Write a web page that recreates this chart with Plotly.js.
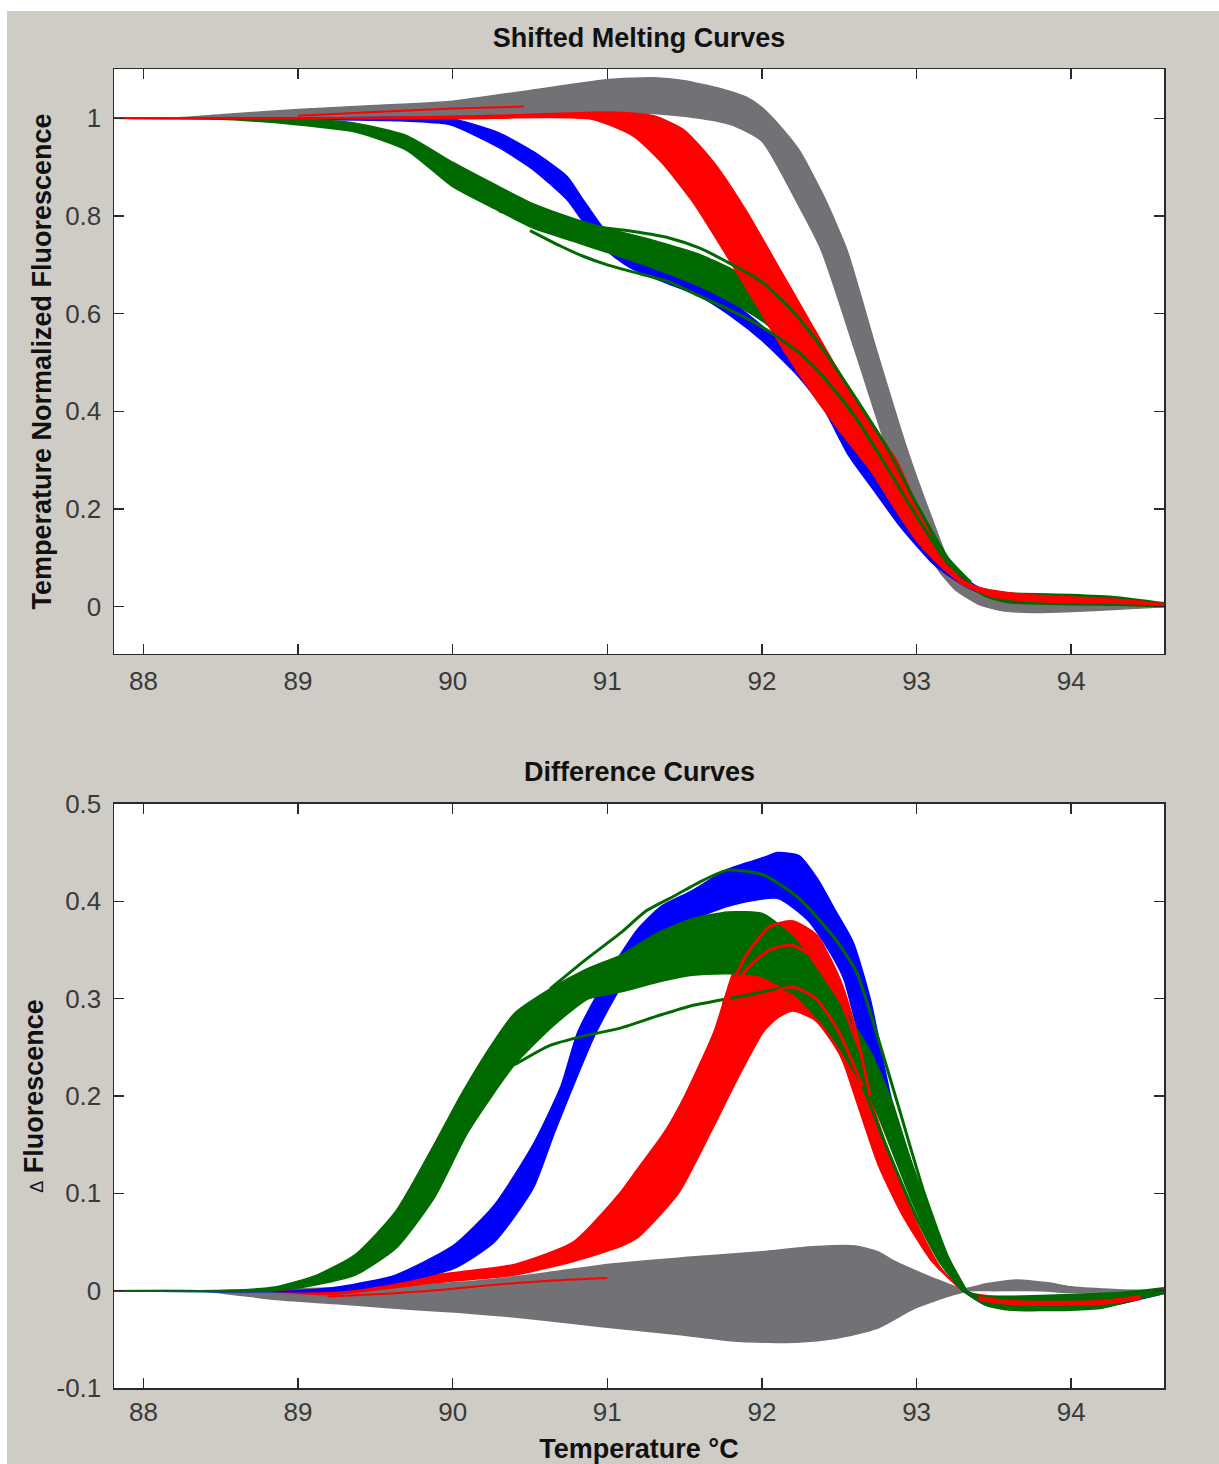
<!DOCTYPE html>
<html>
<head>
<meta charset="utf-8">
<script src="https://cdn.plot.ly/plotly-3.0.1.min.js"></script>
<style>html,body{margin:0;padding:0;background:#ffffff;}#chart{width:1219px;height:1464px;}</style>
</head>
<body>
<div id="chart"></div>
<script>
// ---------- Tick labels ----------
const xTickVals = [88, 89, 90, 91, 92, 93, 94];
const xTickText = ['88', '89', '90', '91', '92', '93', '94'];
const yTopTickVals = [0, 0.2, 0.4, 0.6, 0.8, 1];
const yTopTickText = ['0', '0.2', '0.4', '0.6', '0.8', '1'];
const yBotTickVals = [-0.1, 0, 0.1, 0.2, 0.3, 0.4, 0.5];
const yBotTickText = ['-0.1', '0', '0.1', '0.2', '0.3', '0.4', '0.5'];

// ---------- Top panel: Shifted Melting Curves (band edges) ----------
const grayTopUpperT = [87.8, 88.17, 88.5, 89.0, 89.5, 90.0, 90.5, 91.0, 91.3, 91.5, 91.75, 91.9, 92.0, 92.1, 92.24, 92.4, 92.55, 92.74, 92.94, 93.1, 93.22, 93.35, 93.5, 93.8, 94.2, 94.6];
const grayTopUpperV = [1.0, 1.0, 1.007, 1.018, 1.026, 1.035, 1.057, 1.079, 1.083, 1.077, 1.059, 1.043, 1.022, 0.99, 0.935, 0.84, 0.73, 0.526, 0.321, 0.18, 0.085, 0.04, 0.015, 0.008, 0.006, 0.004];
const grayTopLowerT = [87.8, 88.5, 89.0, 90.0, 90.5, 91.0, 91.3, 91.6, 91.8, 92.0, 92.24, 92.384, 92.6, 92.81, 92.97, 93.13, 93.25, 93.4, 93.55, 93.75, 94.0, 94.3, 94.6];
const grayTopLowerV = [1.0, 1.0, 1.0, 1.003, 1.006, 1.008, 1.01, 1.0, 0.987, 0.953, 0.82, 0.73, 0.526, 0.321, 0.184, 0.08, 0.035, 0.005, -0.008, -0.012, -0.01, -0.005, 0.0];

const blueTopUpperT = [87.8, 89.0, 89.66, 89.98, 90.3, 90.52, 90.74, 90.84, 90.95, 91.03, 91.16, 91.38, 91.6, 91.8, 92.0, 92.24, 92.4, 92.56, 92.72, 92.88, 93.0, 93.1, 93.2, 93.3, 93.4, 93.6, 94.0, 94.6];
const blueTopUpperV = [1.0, 1.0, 1.002, 1.0, 0.97, 0.932, 0.881, 0.835, 0.785, 0.752, 0.718, 0.69, 0.665, 0.625, 0.575, 0.51, 0.44, 0.365, 0.29, 0.215, 0.16, 0.12, 0.085, 0.06, 0.04, 0.02, 0.012, 0.005];
const blueTopLowerT = [87.8, 89.0, 89.66, 89.98, 90.3, 90.52, 90.74, 90.84, 90.95, 91.03, 91.16, 91.38, 91.6, 91.8, 92.0, 92.24, 92.4, 92.56, 92.72, 92.88, 93.0, 93.1, 93.2, 93.3, 93.4, 93.6, 94.0, 94.6];
const blueTopLowerV = [1.0, 0.998, 0.995, 0.987, 0.94, 0.895, 0.833, 0.79, 0.748, 0.72, 0.692, 0.663, 0.635, 0.595, 0.545, 0.47, 0.405, 0.31, 0.24, 0.17, 0.125, 0.09, 0.065, 0.045, 0.03, 0.015, 0.008, 0.002];

const redTopUpperT = [87.8, 89.0, 90.0, 90.5, 91.0, 91.3, 91.5, 91.7, 91.9, 92.1, 92.3, 92.5, 92.7, 92.87, 93.0, 93.1, 93.2, 93.3, 93.4, 93.5, 93.7, 94.0, 94.3, 94.6];
const redTopUpperV = [1.0, 1.0, 1.004, 1.008, 1.013, 1.005, 0.975, 0.905, 0.81, 0.7, 0.59, 0.48, 0.38, 0.3, 0.21, 0.14, 0.085, 0.055, 0.04, 0.033, 0.025, 0.02, 0.015, 0.006];
const redTopLowerT = [87.8, 90.0, 90.9, 91.17, 91.35, 91.55, 91.75, 91.95, 92.15, 92.35, 92.55, 92.7, 92.85, 93.0, 93.1, 93.2, 93.3, 93.5, 93.8, 94.2, 94.6];
const redTopLowerV = [1.0, 0.999, 0.998, 0.963, 0.91, 0.83, 0.73, 0.625, 0.52, 0.425, 0.34, 0.28, 0.205, 0.135, 0.1, 0.07, 0.045, 0.02, 0.01, 0.008, 0.003];
const redTopThinT = [89.0, 89.5, 90.0, 90.46];
const redTopThinV = [1.005, 1.013, 1.02, 1.024];

const greenTopUpperT = [87.8, 88.5, 89.0, 89.37, 89.7, 90.0, 90.27, 90.52, 90.78, 91.03, 91.3, 91.59, 91.81, 92.03, 92.24, 92.4, 92.56, 92.72, 92.88, 93.0, 93.1, 93.2, 93.32, 93.45, 93.6, 94.0, 94.3, 94.6];
const greenTopUpperV = [1.0, 1.0, 0.999, 0.99, 0.965, 0.91, 0.865, 0.825, 0.795, 0.772, 0.75, 0.722, 0.69, 0.645, 0.58, 0.51, 0.44, 0.36, 0.28, 0.21, 0.145, 0.09, 0.05, 0.035, 0.028, 0.025, 0.02, 0.008];
const greenTopLowerT = [87.8, 88.5, 88.99, 89.37, 89.7, 90.0, 90.27, 90.52, 90.78, 91.03, 91.3, 91.59, 91.81, 92.03, 92.24, 92.4, 92.56, 92.72, 92.88, 93.0, 93.1, 93.2, 93.32, 93.45, 93.6, 94.0, 94.3, 94.6];
const greenTopLowerV = [1.0, 0.998, 0.987, 0.972, 0.935, 0.86, 0.815, 0.775, 0.748, 0.722, 0.693, 0.657, 0.622, 0.578, 0.51, 0.44, 0.36, 0.28, 0.2, 0.15, 0.105, 0.072, 0.045, 0.02, 0.008, 0.004, 0.003, 0.0];
const greenTopOutAT = [90.3, 90.48, 90.74, 91.0, 91.17, 91.4, 91.59, 91.81, 92.0, 92.2, 92.4, 92.6, 92.8, 93.0, 93.2, 93.35];
const greenTopOutAV = [0.81, 0.797, 0.789, 0.775, 0.768, 0.755, 0.735, 0.70, 0.665, 0.605, 0.525, 0.43, 0.33, 0.21, 0.1, 0.05];
const greenTopOutBT = [90.5, 90.7, 90.84, 91.0, 91.17, 91.4, 91.59, 91.81, 92.03, 92.24, 92.4, 92.6, 92.8, 93.0, 93.2, 93.35];
const greenTopOutBV = [0.77, 0.738, 0.718, 0.70, 0.685, 0.665, 0.637, 0.605, 0.567, 0.52, 0.47, 0.39, 0.29, 0.185, 0.09, 0.05];

// ---------- Bottom panel: Difference Curves ----------
const grayBotUpperT = [87.8, 88.35, 89.0, 89.5, 90.0, 90.5, 91.0, 91.5, 92.0, 92.33, 92.6, 92.75, 92.86, 93.0, 93.12, 93.3, 93.45, 93.65, 93.85, 94.0, 94.3, 94.6];
const grayBotUpperV = [0, 0, 0.002, 0.004, 0.008, 0.016, 0.027, 0.034, 0.04, 0.045, 0.046, 0.04, 0.03, 0.02, 0.012, 0.002, 0.007, 0.011, 0.008, 0.004, 0.001, 0];
const grayBotLowerT = [87.8, 88.35, 88.86, 89.3, 89.63, 90.01, 90.4, 90.8, 91.08, 91.46, 91.84, 92.22, 92.48, 92.74, 92.99, 93.24, 93.35, 93.5, 93.8, 94.0, 94.3, 94.6];
const grayBotLowerV = [0, 0, -0.009, -0.014, -0.018, -0.022, -0.027, -0.034, -0.039, -0.045, -0.052, -0.053, -0.049, -0.039, -0.018, -0.004, 0, 0, 0, -0.002, -0.002, 0];

const blueBotUpperT = [87.8, 89.0, 89.27, 89.63, 90.01, 90.27, 90.52, 90.7, 90.81, 91.04, 91.2, 91.35, 91.55, 91.78, 92.01, 92.1, 92.24, 92.36, 92.47, 92.59, 92.7, 92.84, 93.05, 93.2, 93.32, 93.45, 93.6, 94.0, 94.3, 94.6];
const blueBotUpperV = [0, 0, 0.004, 0.016, 0.047, 0.088, 0.15, 0.21, 0.266, 0.334, 0.372, 0.395, 0.411, 0.433, 0.445, 0.45, 0.447, 0.423, 0.392, 0.358, 0.3, 0.195, 0.092, 0.03, 0.0, -0.008, -0.012, -0.012, -0.008, 0.0];
const blueBotLowerT = [87.8, 89.27, 89.63, 90.01, 90.27, 90.52, 90.66, 90.93, 91.18, 91.55, 91.78, 92.1, 92.3, 92.45, 92.53, 92.64, 92.79, 92.99, 93.15, 93.3, 93.45, 93.6, 94.0, 94.3, 94.6];
const blueBotLowerV = [0, 0, 0.008, 0.023, 0.05, 0.105, 0.163, 0.266, 0.334, 0.38, 0.395, 0.403, 0.38, 0.345, 0.32, 0.255, 0.195, 0.092, 0.03, 0.0, -0.015, -0.018, -0.018, -0.014, -0.003];

const greenBotUpperT = [87.8, 88.5, 88.86, 89.12, 89.37, 89.63, 89.88, 90.05, 90.2, 90.4, 90.63, 90.86, 91.09, 91.33, 91.55, 91.78, 92.01, 92.22, 92.48, 92.61, 92.72, 92.84, 92.95, 93.06, 93.2, 93.32, 93.45, 93.6, 94.0, 94.3, 94.6];
const greenBotUpperV = [0, 0, 0.004, 0.016, 0.037, 0.081, 0.15, 0.2, 0.24, 0.285, 0.31, 0.33, 0.345, 0.368, 0.382, 0.389, 0.387, 0.36, 0.3, 0.27, 0.24, 0.195, 0.14, 0.092, 0.035, 0.0, -0.006, -0.006, -0.004, -0.002, 0.003];
const greenBotLowerT = [87.8, 88.86, 89.12, 89.37, 89.63, 89.88, 90.1, 90.4, 90.65, 90.88, 91.09, 91.33, 91.55, 91.97, 92.22, 92.48, 92.61, 92.71, 92.85, 92.97, 93.15, 93.3, 93.45, 93.6, 94.0, 94.2, 94.4, 94.6];
const greenBotLowerV = [0, 0, 0.006, 0.016, 0.043, 0.095, 0.163, 0.232, 0.272, 0.3, 0.307, 0.317, 0.324, 0.324, 0.303, 0.255, 0.221, 0.195, 0.14, 0.092, 0.03, 0.0, -0.015, -0.02, -0.02, -0.018, -0.01, -0.003];
const greenBotOutTopT = [90.63, 90.86, 91.09, 91.25, 91.44, 91.6, 91.78, 92.01, 92.24, 92.47, 92.61, 92.75, 92.9, 93.05, 93.2, 93.32];
const greenBotOutTopV = [0.31, 0.34, 0.368, 0.39, 0.406, 0.42, 0.432, 0.427, 0.403, 0.362, 0.328, 0.26, 0.18, 0.1, 0.035, 0.0];
const greenBotOutLowT = [90.4, 90.63, 90.86, 91.09, 91.32, 91.55, 91.89, 92.12, 92.3, 92.5, 92.65, 92.8, 93.0, 93.15, 93.3];
const greenBotOutLowV = [0.232, 0.252, 0.262, 0.27, 0.282, 0.293, 0.303, 0.31, 0.3, 0.26, 0.21, 0.15, 0.075, 0.03, 0.0];

const redBotUpperT = [88.8, 89.5, 89.88, 90.4, 90.78, 91.08, 91.2, 91.37, 91.5, 91.69, 91.83, 91.95, 92.05, 92.2, 92.35, 92.5, 92.6, 92.7, 92.85, 93.0, 93.15, 93.3, 93.45, 93.7, 94.0, 94.3, 94.6];
const redBotUpperV = [0, 0.004, 0.016, 0.027, 0.05, 0.1, 0.126, 0.163, 0.2, 0.266, 0.334, 0.36, 0.374, 0.379, 0.365, 0.32, 0.27, 0.2, 0.13, 0.07, 0.025, 0, -0.005, -0.006, -0.006, -0.004, 0];
const redBotLowerT = [88.8, 89.2, 89.88, 90.4, 90.78, 91.08, 91.2, 91.46, 91.67, 91.85, 92.01, 92.1, 92.2, 92.35, 92.5, 92.6, 92.75, 92.9, 93.1, 93.3, 93.5, 93.7, 94.0, 94.3, 94.6];
const redBotLowerV = [0, -0.004, 0.008, 0.016, 0.03, 0.045, 0.055, 0.1, 0.163, 0.22, 0.266, 0.28, 0.288, 0.278, 0.245, 0.2, 0.13, 0.08, 0.03, 0.0, -0.015, -0.017, -0.017, -0.013, -0.002];
const redBotThinT = [89.19, 89.6, 90.0, 90.27, 90.6, 91.0];
const redBotThinV = [-0.006, -0.003, 0.002, 0.006, 0.01, 0.013];
const redBotTailT = [93.4, 93.6, 93.9, 94.2, 94.45];
const redBotTailV = [-0.008, -0.012, -0.013, -0.012, -0.007];
const redPeak1T = [91.75, 91.9, 92.05, 92.2, 92.35, 92.5, 92.6, 92.7];
const redPeak1V = [0.295, 0.345, 0.374, 0.379, 0.365, 0.32, 0.27, 0.2];
const redPeak2T = [91.75, 91.9, 92.05, 92.19, 92.35, 92.5, 92.65];
const redPeak2V = [0.29, 0.33, 0.35, 0.355, 0.34, 0.3, 0.24];
const redPeak3T = [91.85, 92.0, 92.1, 92.2, 92.35, 92.5, 92.65];
const redPeak3V = [0.27, 0.295, 0.308, 0.312, 0.3, 0.265, 0.21];
const redPeak4T = [91.9, 92.05, 92.2, 92.35, 92.5, 92.65];
const redPeak4V = [0.255, 0.278, 0.288, 0.278, 0.245, 0.19];

// ---------- Styling ----------
const GRAY = '#727175', BLUE = '#0000ff', RED = '#ff0000', GREEN = '#006a00';
const FONT = 'Liberation Sans, Arial, Helvetica, sans-serif';
const BG = '#cfccc6';

function band(lt, lv, ut, uv, color, xa, ya) {
  const line = {color: color, width: 1.5, shape: 'spline', smoothing: 0.6};
  return [
    {x: lt, y: lv, xaxis: xa, yaxis: ya, type: 'scatter', mode: 'lines', line: line, hoverinfo: 'skip', showlegend: false},
    {x: ut, y: uv, xaxis: xa, yaxis: ya, type: 'scatter', mode: 'lines', line: line, fill: 'tonexty', fillcolor: color, hoverinfo: 'skip', showlegend: false}
  ];
}
function curve(t, v, color, w, xa, ya) {
  return {x: t, y: v, xaxis: xa, yaxis: ya, type: 'scatter', mode: 'lines',
          line: {color: color, width: w, shape: 'spline', smoothing: 0.6}, hoverinfo: 'skip', showlegend: false};
}

const data = [].concat(
  band(grayTopLowerT, grayTopLowerV, grayTopUpperT, grayTopUpperV, GRAY, 'x', 'y'),
  band(blueTopLowerT, blueTopLowerV, blueTopUpperT, blueTopUpperV, BLUE, 'x', 'y'),
  band(greenTopLowerT, greenTopLowerV, greenTopUpperT, greenTopUpperV, GREEN, 'x', 'y'),
  band(redTopLowerT, redTopLowerV, redTopUpperT, redTopUpperV, RED, 'x', 'y'),
  [curve(redTopThinT, redTopThinV, RED, 2, 'x', 'y'),
   curve(greenTopOutAT, greenTopOutAV, GREEN, 3, 'x', 'y'),
   curve(greenTopOutBT, greenTopOutBV, GREEN, 3, 'x', 'y')],

  band(grayBotLowerT, grayBotLowerV, grayBotUpperT, grayBotUpperV, GRAY, 'x2', 'y2'),
  band(redBotLowerT, redBotLowerV, redBotUpperT, redBotUpperV, RED, 'x2', 'y2'),
  [curve(redBotThinT, redBotThinV, RED, 2, 'x2', 'y2')],
  band(blueBotLowerT, blueBotLowerV, blueBotUpperT, blueBotUpperV, BLUE, 'x2', 'y2'),
  band(greenBotLowerT, greenBotLowerV, greenBotUpperT, greenBotUpperV, GREEN, 'x2', 'y2'),
  [curve(greenBotOutTopT, greenBotOutTopV, GREEN, 3, 'x2', 'y2'),
   curve(greenBotOutLowT, greenBotOutLowV, GREEN, 3, 'x2', 'y2'),
   curve(redBotTailT, redBotTailV, RED, 5, 'x2', 'y2'),
   curve(redPeak1T, redPeak1V, RED, 3, 'x2', 'y2'),
   curve(redPeak2T, redPeak2V, RED, 3, 'x2', 'y2'),
   curve(redPeak3T, redPeak3V, RED, 3, 'x2', 'y2'),
   curve(redPeak4T, redPeak4V, RED, 3, 'x2', 'y2')]
);

const tickFont = {family: FONT, size: 26, color: '#3a3a3a'};
const titleFont = {family: FONT, size: 27, color: '#111111', weight: 'bold'};
const axBase = {
  showgrid: false, zeroline: false, showline: true, mirror: 'ticks',
  linecolor: '#2a2a2a', linewidth: 1.5,
  ticks: 'inside', ticklen: 10, tickwidth: 1.5, tickcolor: '#2a2a2a',
  tickfont: tickFont, fixedrange: true
};

const layout = {
  width: 1219, height: 1464,
  margin: {l: 114, r: 55, t: 69, b: 76, pad: 0},
  paper_bgcolor: BG, plot_bgcolor: '#ffffff',
  showlegend: false,
  title: {text: 'Shifted Melting Curves', font: titleFont, x: 0.5, xref: 'paper', xanchor: 'center',
          y: 1 - 38 / 1464, yref: 'container', yanchor: 'middle'},
  xaxis: Object.assign({}, axBase, {domain: [0, 1], anchor: 'y', range: [87.81, 94.6],
          tickvals: xTickVals, ticktext: xTickText, ticklabelstandoff: 3}),
  yaxis: Object.assign({}, axBase, {domain: [0.5565, 1], anchor: 'x', range: [-0.0968, 1.1009],
          tickvals: yTopTickVals, ticktext: yTopTickText, ticklabelstandoff: 6,
          title: {text: 'Temperature Normalized Fluorescence', font: titleFont, standoff: 5}}),
  xaxis2: Object.assign({}, axBase, {domain: [0, 1], anchor: 'y2', range: [87.81, 94.6],
          tickvals: xTickVals, ticktext: xTickText, ticklabelstandoff: 0,
          title: {text: 'Temperature °C', font: titleFont, standoff: 16}}),
  yaxis2: Object.assign({}, axBase, {domain: [0, 0.4428], anchor: 'x2', range: [-0.1, 0.5],
          tickvals: yBotTickVals, ticktext: yBotTickText, ticklabelstandoff: 6,
          title: {text: '<span style="font-size:18px;font-weight:normal">Δ</span> Fluorescence', font: titleFont, standoff: 5}}),
  annotations: [
    {text: 'Difference Curves', xref: 'paper', yref: 'paper', x: 0.5, y: (1388 - 772) / 1319,
     xanchor: 'center', yanchor: 'middle', showarrow: false, font: titleFont}
  ],
  shapes: [
    {type: 'rect', xref: 'paper', yref: 'paper', x0: -0.1086, x1: (7 - 114) / 1050, y0: -0.06, y1: 1.06,
     fillcolor: '#ffffff', line: {width: 0}, layer: 'above'},
    {type: 'rect', xref: 'paper', yref: 'paper', x0: -0.1086, x1: 1.06, y0: (1388 - 11) / 1319, y1: 1.06,
     fillcolor: '#ffffff', line: {width: 0}, layer: 'above'}
  ]
};

Plotly.newPlot('chart', data, layout, {displayModeBar: false, staticPlot: true});
</script>
</body>
</html>
